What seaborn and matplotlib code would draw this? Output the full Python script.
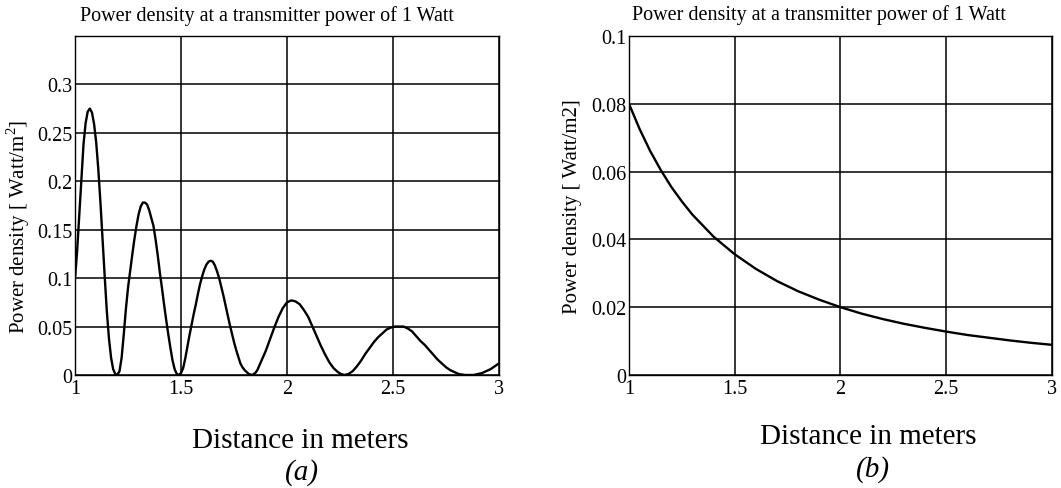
import matplotlib
matplotlib.use("Agg")
import matplotlib.pyplot as plt
import seaborn as sns
import pandas as pd

# ---------------- data ----------------
dist_a = [1.000, 1.010, 1.020, 1.030, 1.040, 1.050, 1.060, 1.070, 1.080, 1.090,
          1.100, 1.110, 1.120, 1.130, 1.140, 1.150, 1.160, 1.170, 1.180, 1.190,
          1.199, 1.210, 1.220, 1.230, 1.240, 1.250, 1.260, 1.270, 1.280, 1.290,
          1.300, 1.310, 1.320, 1.330, 1.340, 1.350, 1.360, 1.370, 1.380, 1.390,
          1.400, 1.410, 1.420, 1.430, 1.440, 1.450, 1.460, 1.470, 1.480, 1.489,
          1.500, 1.510, 1.520, 1.530, 1.540, 1.550, 1.560, 1.570, 1.580, 1.590,
          1.600, 1.610, 1.620, 1.630, 1.640, 1.650, 1.660, 1.670, 1.680, 1.690,
          1.700, 1.710, 1.720, 1.730, 1.740, 1.750, 1.760, 1.770, 1.780, 1.790,
          1.800, 1.810, 1.820, 1.836, 1.850, 1.860, 1.870, 1.880, 1.890, 1.900,
          1.920, 1.940, 1.960, 1.980, 2.000, 2.020, 2.040, 2.060, 2.080, 2.100,
          2.120, 2.140, 2.160, 2.180, 2.200, 2.220, 2.240, 2.255, 2.270, 2.290,
          2.310, 2.330, 2.350, 2.370, 2.390, 2.410, 2.430, 2.450, 2.470, 2.490,
          2.510, 2.530, 2.550, 2.570, 2.590, 2.610, 2.630, 2.650, 2.670, 2.690,
          2.710, 2.730, 2.750, 2.770, 2.790, 2.810, 2.840, 2.863, 2.880, 2.900,
          2.920, 2.940, 2.960, 2.980, 3.000]
power_a = [0.099, 0.128, 0.165, 0.203, 0.238, 0.260, 0.272, 0.275, 0.271, 0.259,
           0.240, 0.212, 0.178, 0.140, 0.102, 0.066, 0.038, 0.018, 0.006, 0.001,
           0.000, 0.004, 0.018, 0.042, 0.068, 0.090, 0.107, 0.124, 0.140, 0.154,
           0.166, 0.174, 0.178, 0.178, 0.176, 0.170, 0.162, 0.154, 0.140, 0.124,
           0.106, 0.090, 0.073, 0.057, 0.042, 0.028, 0.015, 0.006, 0.001, 0.000,
           0.002, 0.007, 0.017, 0.029, 0.041, 0.052, 0.063, 0.073, 0.084, 0.094,
           0.102, 0.109, 0.114, 0.117, 0.118, 0.117, 0.113, 0.107, 0.100, 0.091,
           0.082, 0.072, 0.062, 0.052, 0.043, 0.034, 0.026, 0.019, 0.012, 0.008,
           0.005, 0.003, 0.001, 0.000, 0.002, 0.005, 0.010, 0.015, 0.020, 0.025,
           0.037, 0.049, 0.060, 0.069, 0.075, 0.077, 0.076, 0.073, 0.067, 0.060,
           0.050, 0.040, 0.030, 0.021, 0.013, 0.007, 0.003, 0.001, 0.000, 0.001,
           0.004, 0.009, 0.015, 0.022, 0.028, 0.034, 0.039, 0.043, 0.047, 0.049,
           0.050, 0.050, 0.050, 0.048, 0.045, 0.040, 0.035, 0.031, 0.026, 0.021,
           0.016, 0.012, 0.008, 0.005, 0.003, 0.001, 0.000, 0.000, 0.000, 0.001,
           0.002, 0.004, 0.006, 0.009, 0.012]

dist_b = [1.00, 1.05, 1.10, 1.15, 1.20, 1.25, 1.30, 1.40, 1.50, 1.60, 1.70,
          1.80, 1.90, 2.00, 2.10, 2.20, 2.30, 2.40, 2.50, 2.60, 2.70, 2.80,
          2.90, 3.00]
power_b = [0.0800, 0.0726, 0.0661, 0.0605, 0.0555, 0.0512, 0.0473, 0.0408,
           0.0356, 0.0313, 0.0277, 0.0247, 0.0222, 0.0200, 0.0181, 0.0165,
           0.0151, 0.0139, 0.0128, 0.0118, 0.0110, 0.0102, 0.0095, 0.0089]

x_ticks = [1, 1.5, 2, 2.5, 3]
x_tick_labels = ["1", "1.5", "2", "2.5", "3"]
y_ticks_a = [0, 0.05, 0.1, 0.15, 0.2, 0.25, 0.3]
y_tick_labels_a = ["0", "0.05", "0.1", "0.15", "0.2", "0.25", "0.3"]
y_ticks_b = [0, 0.02, 0.04, 0.06, 0.08, 0.1]
y_tick_labels_b = ["0", "0.02", "0.04", "0.06", "0.08", "0.1"]

title_text = "Power density at a transmitter power of 1 Watt"
xlabel_text = "Distance in meters"
ylabel_a = "Power density [ Watt/m$^2$]"
ylabel_b = "Power density [ Watt/m2]"

# ---------------- style ----------------
sns.set_style("white")
plt.rcParams["font.family"] = ["Liberation Serif", "DejaVu Serif"]
plt.rcParams["mathtext.fontset"] = "custom"
plt.rcParams["mathtext.rm"] = "Liberation Serif"
plt.rcParams["text.color"] = "black"
plt.rcParams["xtick.color"] = "black"
plt.rcParams["ytick.color"] = "black"

df_a = pd.DataFrame({"d": dist_a, "p": power_a})
df_b = pd.DataFrame({"d": dist_b, "p": power_b})

fig = plt.figure(figsize=(10.61, 4.89), dpi=100)
ax_a = fig.add_axes([0.0707, 0.2311, 0.3996, 0.6933])
ax_b = fig.add_axes([0.5928, 0.2311, 0.3987, 0.6933])

sns.lineplot(data=df_a, x="d", y="p", ax=ax_a, color="black", lw=1.7)
sns.lineplot(data=df_b, x="d", y="p", ax=ax_b, color="black", lw=1.7)

for ax, yt, ytl, ymax in [(ax_a, y_ticks_a, y_tick_labels_a, 0.35),
                          (ax_b, y_ticks_b, y_tick_labels_b, 0.1)]:
    ax.set_xlim(1, 3)
    ax.set_ylim(0, ymax)
    ax.set_xticks(x_ticks)
    ax.set_xticklabels(x_tick_labels)
    ax.set_yticks(yt)
    ax.set_yticklabels(ytl)
    ax.set_xlabel("")
    ax.set_ylabel("")
    ax.grid(True, color="black", lw=1.1)
    ax.set_axisbelow(True)
    ax.tick_params(axis="both", length=0, labelsize=14.5, labelcolor="black")
    ax.tick_params(axis="x", pad=3)
    ax.tick_params(axis="y", pad=2)
    for s in ax.spines.values():
        s.set_visible(True)
        s.set_color("black")
        s.set_linewidth(1.0)

# titles
fig.text(0.2516, 0.968, title_text, ha="center", va="center", fontsize=14.5)
fig.text(0.772, 0.969, title_text, ha="center", va="center", fontsize=14.5)

# y labels
fig.text(0.017, 0.536, ylabel_a, rotation=90, ha="center", va="center", fontsize=15)
fig.text(0.540, 0.577, ylabel_b, rotation=90, ha="center", va="center", fontsize=15)

# x labels and panel letters
fig.text(0.2834, 0.098, xlabel_text, ha="center", va="center", fontsize=21)
fig.text(0.2846, 0.033, "(a)", ha="center", va="center", fontsize=21, style="italic")
fig.text(0.818, 0.106, xlabel_text, ha="center", va="center", fontsize=21)
fig.text(0.823, 0.039, "(b)", ha="center", va="center", fontsize=21, style="italic")

fig.savefig("out.png", dpi=100)
